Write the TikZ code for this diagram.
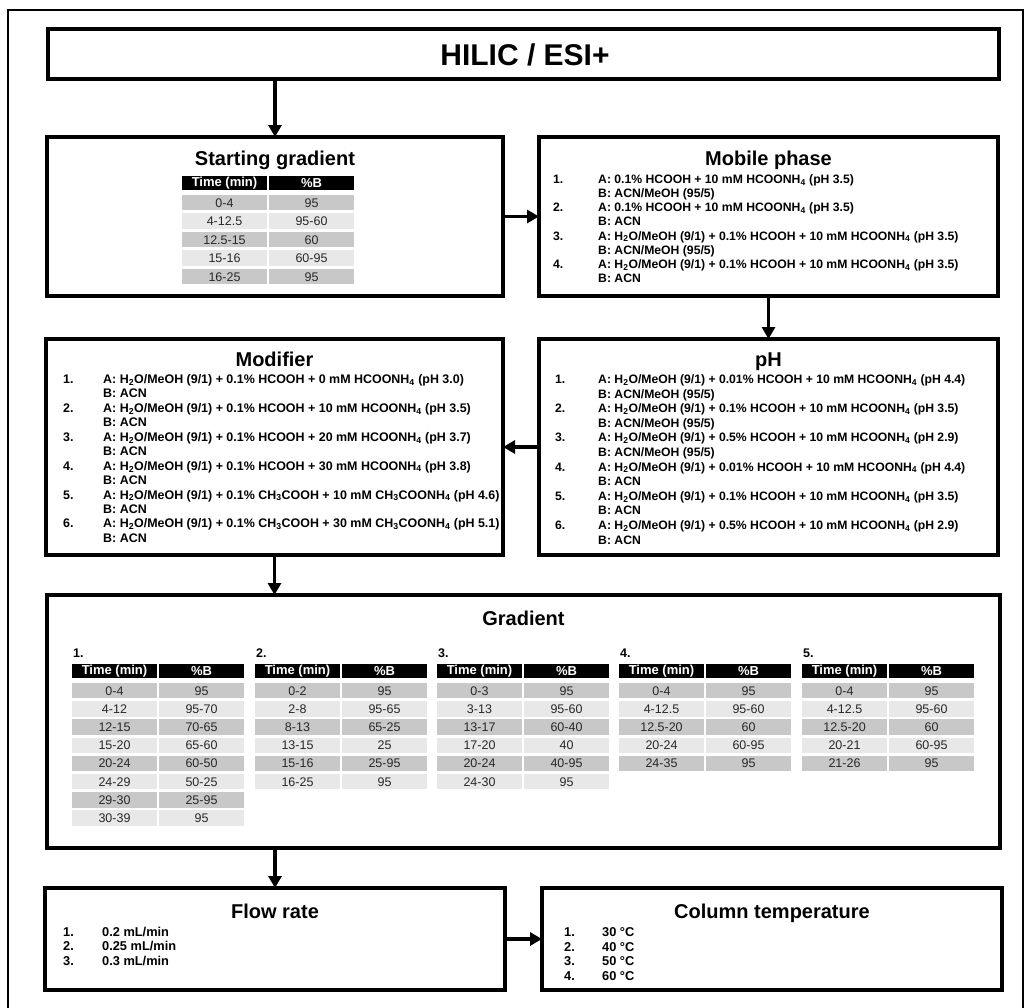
\documentclass[tikz,border=0pt]{standalone}
\usepackage{fontspec}
\setmainfont{Liberation Sans}
\usetikzlibrary{arrows.meta}

\definecolor{rowdark}{RGB}{200,200,200}
\definecolor{rowlight}{RGB}{232,232,232}
\definecolor{celltext}{RGB}{40,40,40}

% chemical shorthands
\newcommand{\watmeoh}{H\textsubscript{2}O/MeOH (9/1)}
\newcommand{\ammform}{HCOONH\textsubscript{4}}
\newcommand{\ammacet}{CH\textsubscript{3}COONH\textsubscript{4}}
\newcommand{\aceacid}{CH\textsubscript{3}COOH}
\newcommand{\listfont}[2]{\fontsize{#1pt}{#2pt}\selectfont\bfseries}

\tikzset{
  box/.style={draw, line width=4pt, inner sep=0pt, outer sep=0pt},
  boxtitle/.style={font=\fontsize{20pt}{24pt}\selectfont\bfseries, inner sep=0pt, anchor=base},
  listtext/.style={inner sep=0pt, anchor=base west},
  flowarrow/.style={line width=3.5pt, -{Triangle[length=12pt,width=13pt]}},
  hdrcell/.style={fill=black, text=white, font=\fontsize{13pt}{14pt}\selectfont\bfseries,
    minimum width=85pt, minimum height=14pt, inner sep=0pt, outer sep=0pt},
  datacell/.style={text=celltext, font=\fontsize{12.5pt}{14pt}\selectfont,
    minimum width=85pt, minimum height=15.5pt, inner sep=0pt, outer sep=0pt},
  tablabel/.style={font=\fontsize{12.5pt}{14pt}\selectfont\bfseries, inner sep=0pt, anchor=base west}
}

% #1 name prefix, #2 left x, #3 header centre y, #4 row pitch, #5 rows (time/percent B)
\newcommand{\gradtable}[5]{%
  \node[hdrcell, anchor=west] (#1-h-a) at (#2,#3) {Time (min)};
  \node[hdrcell, anchor=west] (#1-h-b) at (#2+87,#3) {\%B};
  \foreach \ta/\pb [count=\i] in {#5} {
    \ifodd\i \def\rowshade{rowdark}\else\def\rowshade{rowlight}\fi
    \node[datacell, fill=\rowshade, anchor=west] (#1-\i-a) at (#2,#3+20+#4*\i-#4) {\ta};
    \node[datacell, fill=\rowshade, anchor=west] (#1-\i-b) at (#2+87,#3+20+#4*\i-#4) {\pb};
  }%
}

\begin{document}
\begin{tikzpicture}[x=1pt,y=-1pt]
\useasboundingbox (0,0) rectangle (1025,1007);

% outer frame
\draw[line width=2.5pt] (8,1012) -- (8,10) -- (1023,10) -- (1023,1012);

% boxes
\node[box, minimum width=951pt, minimum height=50pt]  (top)  at (523.5,54) {};
\node[box, minimum width=456pt, minimum height=159pt] (sg)   at (275,216.5) {};
\node[box, minimum width=459pt, minimum height=159pt] (mp)   at (768.5,216.5) {};
\node[box, minimum width=457pt, minimum height=216pt] (mod)  at (274.5,447) {};
\node[box, minimum width=459pt, minimum height=216pt] (ph)   at (768.5,447) {};
\node[box, minimum width=953pt, minimum height=253pt] (grad) at (523.5,721.5) {};
\node[box, minimum width=460pt, minimum height=102pt] (flow) at (275,939) {};
\node[box, minimum width=460pt, minimum height=102pt] (col)  at (772,939) {};

% titles
\node[boxtitle, font=\fontsize{30pt}{34pt}\selectfont\bfseries] (toptitle) at (525,65.5) {HILIC / ESI+};
\node[boxtitle] (sgtitle)   at (275,165)   {Starting gradient};
\node[boxtitle] (mptitle)   at (768.5,165) {Mobile phase};
\node[boxtitle] (modtitle)  at (274.5,366) {Modifier};
\node[boxtitle] (phtitle)   at (768.5,366) {pH};
\node[boxtitle] (gradtitle) at (523.5,625) {Gradient};
\node[boxtitle] (flowtitle) at (275,918)   {Flow rate};
\node[boxtitle] (coltitle)  at (772,918)   {Column temperature};

% connectors
\draw[flowarrow] (top.south -| sg.north) -- (sg.north);
\draw[flowarrow] (sg.east) -- (mp.west);
\draw[flowarrow] (mp.south) -- (ph.north);
\draw[flowarrow] (ph.west) -- (mod.east);
\draw[flowarrow] (mod.south) -- (mod.south |- grad.north);
\draw[flowarrow] (grad.south -| flow.north) -- (flow.north);
\draw[flowarrow] (flow.east) -- (col.west);

% starting gradient table
\gradtable{sgt}{182}{182.7}{18.5}{0-4/95, 4-12.5/95-60, 12.5-15/60, 15-16/60-95, 16-25/95}

% mobile phase list
\node[listtext] (mplist) at (553,183.4) {\listfont{12.2}{14.15}\begin{tabular}[t]{@{}p{45pt}@{}l@{}}
1. & A: 0.1\% HCOOH + 10 mM \ammform{} (pH 3.5)\\
   & B: ACN/MeOH (95/5)\\
2. & A: 0.1\% HCOOH + 10 mM \ammform{} (pH 3.5)\\
   & B: ACN\\
3. & A: \watmeoh{} + 0.1\% HCOOH + 10 mM \ammform{} (pH 3.5)\\
   & B: ACN/MeOH (95/5)\\
4. & A: \watmeoh{} + 0.1\% HCOOH + 10 mM \ammform{} (pH 3.5)\\
   & B: ACN
\end{tabular}};

% modifier list
\node[listtext] (modlist) at (63,383.4) {\listfont{12.45}{14.45}\begin{tabular}[t]{@{}p{40pt}@{}l@{}}
1. & A: \watmeoh{} + 0.1\% HCOOH + 0 mM \ammform{} (pH 3.0)\\
   & B: ACN\\
2. & A: \watmeoh{} + 0.1\% HCOOH + 10 mM \ammform{} (pH 3.5)\\
   & B: ACN\\
3. & A: \watmeoh{} + 0.1\% HCOOH + 20 mM \ammform{} (pH 3.7)\\
   & B: ACN\\
4. & A: \watmeoh{} + 0.1\% HCOOH + 30 mM \ammform{} (pH 3.8)\\
   & B: ACN\\
5. & A: \watmeoh{} + 0.1\% \aceacid{} + 10 mM \ammacet{} (pH 4.6)\\
   & B: ACN\\
6. & A: \watmeoh{} + 0.1\% \aceacid{} + 30 mM \ammacet{} (pH 5.1)\\
   & B: ACN
\end{tabular}};

% pH list
\node[listtext] (phlist) at (555,383.4) {\listfont{12.2}{14.6}\begin{tabular}[t]{@{}p{43pt}@{}l@{}}
1. & A: \watmeoh{} + 0.01\% HCOOH + 10 mM \ammform{} (pH 4.4)\\
   & B: ACN/MeOH (95/5)\\
2. & A: \watmeoh{} + 0.1\% HCOOH + 10 mM \ammform{} (pH 3.5)\\
   & B: ACN/MeOH (95/5)\\
3. & A: \watmeoh{} + 0.5\% HCOOH + 10 mM \ammform{} (pH 2.9)\\
   & B: ACN/MeOH (95/5)\\
4. & A: \watmeoh{} + 0.01\% HCOOH + 10 mM \ammform{} (pH 4.4)\\
   & B: ACN\\
5. & A: \watmeoh{} + 0.1\% HCOOH + 10 mM \ammform{} (pH 3.5)\\
   & B: ACN\\
6. & A: \watmeoh{} + 0.5\% HCOOH + 10 mM \ammform{} (pH 2.9)\\
   & B: ACN
\end{tabular}};

% gradient tables
\node[tablabel] (g1lab) at (73,657) {1.};
\node[tablabel] (g2lab) at (256,657) {2.};
\node[tablabel] (g3lab) at (438,657) {3.};
\node[tablabel] (g4lab) at (620,657) {4.};
\node[tablabel] (g5lab) at (803,657) {5.};
\gradtable{g1}{72}{670.7}{18.2}{0-4/95, 4-12/95-70, 12-15/70-65, 15-20/65-60, 20-24/60-50, 24-29/50-25, 29-30/25-95, 30-39/95}
\gradtable{g2}{255}{670.7}{18.2}{0-2/95, 2-8/95-65, 8-13/65-25, 13-15/25, 15-16/25-95, 16-25/95}
\gradtable{g3}{437}{670.7}{18.2}{0-3/95, 3-13/95-60, 13-17/60-40, 17-20/40, 20-24/40-95, 24-30/95}
\gradtable{g4}{619}{670.7}{18.2}{0-4/95, 4-12.5/95-60, 12.5-20/60, 20-24/60-95, 24-35/95}
\gradtable{g5}{802}{670.7}{18.2}{0-4/95, 4-12.5/95-60, 12.5-20/60, 20-21/60-95, 21-26/95}

% flow rate list
\node[listtext] (flowlist) at (63,936) {\listfont{12.8}{14.5}\begin{tabular}[t]{@{}p{39pt}@{}l@{}}
1. & 0.2 mL/min\\
2. & 0.25 mL/min\\
3. & 0.3 mL/min
\end{tabular}};

% column temperature list
\node[listtext] (collist) at (564,936.5) {\listfont{12.8}{14.5}\begin{tabular}[t]{@{}p{38pt}@{}l@{}}
1. & 30 °C\\
2. & 40 °C\\
3. & 50 °C\\
4. & 60 °C
\end{tabular}};

\end{tikzpicture}
\end{document}
